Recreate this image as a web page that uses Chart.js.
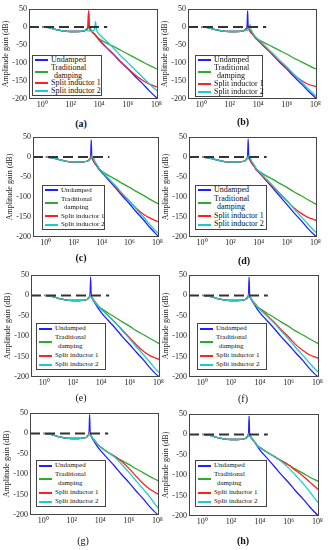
<!DOCTYPE html>
<html>
<head>
<meta charset="utf-8">
<script src="https://cdn.jsdelivr.net/npm/chart.js@4.4.1/dist/chart.umd.min.js"></script>
<style>
  body { margin: 0; background: #fff; width: 329px; height: 550px; position: relative; overflow: hidden; font-family: "Liberation Serif", "Times New Roman", serif; }
  canvas { position: absolute; }
  .legend { position: absolute; border: 1px solid #444; background: #fff; box-sizing: border-box; color: #111; }
  .legend .row { position: absolute; left: 18px; white-space: nowrap; }
  .legend .sw { position: absolute; left: 2px; width: 13px; height: 2px; }
  .cap { position: absolute; font-size: 10px; transform: translate(-50%, -50%); color: #111; }
</style>
</head>
<body>
<script>
// frequency grid (Hz), shared by every panel
const freqLow = [1, 3, 10, 30, 100, 300, 1000];
const gainLow = [0, -2, -7, -11, -12.5, -12.5, -10];
const freqHigh = [1400, 1650, 1800, 1950, 2300, 2650, 3000, 3800, 4700, 5500, 6200, 7500,
                  1e4, 3e4, 1e5, 3e5, 1e6, 3e6, 1e7, 3e7, 1e8, 1.3e8];
const refFreq = [0.12, 36000];
const refGain = [0, 0];
const xTicks = [1, 1e2, 1e4, 1e6, 1e8];
const yTicks = [50, 0, -50, -100, -150, -200];
const seriesNames = ["Undamped", "Traditional damping", "Split inductor 1", "Split inductor 2"];

// (a)
const undampedA    = [-5, 3, 45, 3, -6, -10, -13, -17, -20, -23, -26, -30, -36, -56, -76, -96, -116, -136, -156, -176, -196, -200];
const traditionalA = [-5, -3, -2, -3, -6, -8, -11, -15, -19, -22, -25, -29, -33, -44, -54, -64, -75, -85, -96, -106, -116, -118];
const split1A      = [-5, 3, 45, 3, -6, -10, -13, -17, -20, -23, -26, -30, -36, -56, -76, -96, -115, -132, -147, -158, -166, -168];
const split2A      = [-9, -10, -11, -11, -11, -12, -12, -10, -6, 15, -4, -14, -20, -38, -59, -79, -99, -118, -138, -157, -176, -180];
// (b)
const undampedB    = [-5, 3, 45, 3, -6, -10, -14, -19, -23, -27, -30, -33, -38, -57, -77, -97, -117, -137, -157, -177, -196, -200];
const traditionalB = [-5, -3, -2, -3, -6, -9, -12, -17, -21, -25, -28, -32, -35, -45, -55, -65, -75, -86, -96, -106, -116, -117];
const split1B      = [-6, -3, -2, -4, -8, -12, -15, -19, -23, -27, -30, -33, -37, -56, -75, -94, -114, -132, -148, -159, -165, -166];
const split2B      = [-8, -9, -9, -8, -4, 7, -4, -14, -20, -24, -27, -30, -34, -53, -73, -92, -111, -131, -151, -171, -190, -193];
// (c)
const undampedC    = [-5, 3, 43, 3, -6, -10, -14, -19, -23, -27, -30, -33, -38, -57, -77, -97, -117, -137, -157, -177, -196, -200];
const traditionalC = [-5, -3, -2, -3, -6, -9, -12, -16, -20, -24, -27, -31, -35, -46, -56, -66, -76, -86, -96, -106, -116, -118];
const split1C      = [-5, 0, 6, 0, -6, -10, -14, -19, -23, -27, -30, -33, -37, -55, -74, -93, -111, -128, -143, -153, -161, -163];
const split2C      = [-6, -3, -1, 0, 2, -2, -8, -15, -20, -24, -28, -31, -35, -53, -72, -91, -110, -130, -150, -170, -189, -192];
// (d)
const undampedD    = [-5, 3, 45, 3, -6, -10, -14, -19, -23, -27, -30, -33, -38, -57, -78, -98, -119, -139, -159, -179, -197, -200];
const traditionalD = [-5, -3, -2, -3, -6, -9, -12, -16, -20, -24, -27, -31, -35, -46, -56, -66, -76, -87, -97, -107, -117, -119];
const split1D      = [-5, 0, 4, 0, -6, -10, -14, -19, -23, -27, -30, -33, -37, -55, -74, -92, -110, -127, -141, -151, -158, -160];
const split2D      = [-6, -2, 0, 1, 2, -2, -8, -15, -20, -24, -28, -31, -35, -53, -72, -90, -109, -129, -149, -168, -187, -190];
// (e)
const undampedE    = [-5, 3, 45, 3, -6, -11, -15, -20, -25, -29, -32, -36, -42, -61, -81, -101, -121, -140, -160, -180, -198, -200];
const traditionalE = [-5, -3, -2, -3, -6, -9, -12, -16, -20, -23, -26, -29, -32, -43, -54, -65, -76, -87, -97, -107, -117, -119];
const split1E      = [-5, 0, 4, 0, -6, -10, -13, -18, -22, -25, -27, -30, -34, -49, -67, -85, -104, -122, -138, -149, -156, -158];
const split2E      = [-6, -2, 1, -1, -6, -10, -13, -18, -22, -25, -27, -30, -34, -50, -68, -87, -107, -127, -147, -167, -187, -190];
// (f)
const undampedF    = [-5, 3, 45, 3, -6, -11, -15, -20, -25, -29, -32, -36, -42, -61, -81, -101, -121, -140, -160, -180, -198, -200];
const traditionalF = [-5, -3, -2, -3, -6, -9, -12, -16, -20, -23, -26, -29, -32, -43, -54, -65, -76, -87, -97, -107, -117, -119];
const split1F      = [-5, 0, 4, 0, -6, -10, -13, -18, -22, -25, -27, -30, -34, -48, -66, -84, -102, -120, -135, -146, -153, -155];
const split2F      = [-6, -2, 1, -1, -6, -10, -13, -18, -22, -25, -27, -30, -34, -50, -68, -87, -107, -127, -147, -167, -186, -189];
// (g)
const undampedG    = [-5, 3, 46, 3, -6, -11, -15, -20, -25, -29, -32, -36, -41, -60, -80, -100, -120, -140, -160, -180, -198, -200];
const traditionalG = [-5, -3, -2, -3, -6, -9, -12, -16, -20, -23, -26, -29, -33, -45, -56, -66, -76, -86, -96, -106, -115, -117];
const split1G      = [-5, 0, 4, 0, -6, -10, -13, -17, -21, -24, -26, -29, -33, -45, -56, -68, -85, -104, -123, -137, -148, -150];
const split2G      = [-6, -2, 1, -1, -6, -10, -13, -17, -21, -24, -26, -29, -33, -45, -58, -75, -95, -115, -136, -156, -181, -185];
// (h)
const undampedH    = [-5, 3, 45, 3, -5, -9, -12, -16, -20, -24, -27, -31, -38, -57, -78, -98, -118, -138, -158, -178, -197, -200];
const traditionalH = [-5, -3, -2, -3, -6, -9, -12, -16, -20, -23, -26, -29, -32, -43, -54, -64, -75, -85, -95, -105, -114, -116];
const split1H      = [-5, 0, 3, 0, -6, -9, -12, -16, -20, -23, -26, -29, -32, -43, -54, -64, -75, -88, -102, -117, -133, -136];
const split2H      = [-6, -2, 1, -1, -6, -9, -12, -16, -20, -23, -26, -29, -32, -43, -54, -66, -82, -100, -120, -141, -165, -170];

const colors = ["#1f1fff", "#2eaa2e", "#ff2020", "#1ccccc"];
const fontFam = '"Liberation Serif", "Times New Roman", serif';
const sup = { 0: "\u2070", 2: "\u00b2", 4: "\u2074", 6: "\u2076", 8: "\u2078" };

// plot = [left, top, right, bottom], leg = [left, top, width, height, fontSize]
const panels = [
  { cap: "(a)", bold: true,  capAt: [81, 123],  plot: [29, 9, 158, 99],     leg: [32, 55, 70, 41, 8], s: [undampedA, traditionalA, split1A, split2A] },
  { cap: "(b)", bold: true,  capAt: [243, 121], plot: [188, 9, 317, 99],    leg: [195, 55, 68, 42, 8], s: [undampedB, traditionalB, split1B, split2B] },
  { cap: "(c)", bold: true,  capAt: [81, 257],  plot: [33, 137, 159, 237],  leg: [42, 185, 63, 45, 7], s: [undampedC, traditionalC, split1C, split2C] },
  { cap: "(d)", bold: true,  capAt: [244, 260], plot: [189, 137, 317, 237], leg: [195, 185, 72, 45, 8], s: [undampedD, traditionalD, split1D, split2D] },
  { cap: "(e)", bold: false, capAt: [81, 397],  plot: [31, 275, 160, 377],  leg: [36, 323, 70, 47, 7], s: [undampedE, traditionalE, split1E, split2E] },
  { cap: "(f)", bold: false, capAt: [243, 398], plot: [189, 275, 319, 377], leg: [197, 323, 70, 47, 7], s: [undampedF, traditionalF, split1F, split2F] },
  { cap: "(g)", bold: false, capAt: [83, 540],  plot: [30, 413, 159, 515],  leg: [36, 460, 70, 47, 7], s: [undampedG, traditionalG, split1G, split2G] },
  { cap: "(h)", bold: true,  capAt: [243, 540], plot: [189, 414, 319, 516], leg: [195, 460, 72, 47, 7], s: [undampedH, traditionalH, split1H, split2H] }
];

const boxPlugin = {
  id: "box",
  afterDatasetsDraw(chart) {
    const a = chart.chartArea, ctx = chart.ctx;
    ctx.save();
    ctx.strokeStyle = "#444";
    ctx.lineWidth = 1;
    ctx.strokeRect(Math.round(a.left) + 0.5, Math.round(a.top) + 0.5, Math.round(a.right - a.left) - 1, Math.round(a.bottom - a.top) - 1);
    ctx.restore();
  }
};

function pts(fx, gy) {
  return fx.map((f, i) => ({ x: f, y: gy[i] }));
}

function makePanel(p) {
  const padL = 29, padT = 9, padR = 7, padB = 13;
  const W = p.plot[2] - p.plot[0] + padL + padR;
  const H = p.plot[3] - p.plot[1] + padT + padB;
  const cv = document.createElement("canvas");
  cv.width = W; cv.height = H;
  cv.style.left = (p.plot[0] - padL) + "px";
  cv.style.top = (p.plot[1] - padT) + "px";
  cv.style.width = W + "px"; cv.style.height = H + "px";
  document.body.appendChild(cv);

  const freq = freqLow.concat(freqHigh);
  const line = (vals, c) => ({
    data: pts(freq, gainLow.concat(vals)),
    borderColor: c, borderWidth: 1.3, pointRadius: 0,
    cubicInterpolationMode: "monotone"
  });

  // drawing order: first dataset ends up on top
  const datasets = [
    { data: pts(refFreq, refGain), borderColor: "#333", borderWidth: 2, borderDash: [10, 5], pointRadius: 0 },
    line(p.s[3], colors[3]),
    line(p.s[2], colors[2]),
    line(p.s[1], colors[1]),
    line(p.s[0], colors[0])
  ];

  new Chart(cv, {
    type: "line",
    data: { datasets: datasets },
    options: {
      responsive: false,
      animation: false,
      devicePixelRatio: 1,
      layout: { padding: { top: padT, right: padR, left: 0, bottom: 0 } },
      plugins: { legend: { display: false }, tooltip: { enabled: false } },
      scales: {
        x: {
          type: "logarithmic", min: 0.12, max: 1.3e8,
          grid: { display: false, drawTicks: false }, border: { display: false },
          afterFit: s => { s.height = padB; },
          afterBuildTicks: s => { s.ticks = xTicks.map(v => ({ value: v })); },
          ticks: {
            autoSkip: false, maxRotation: 0, padding: 1, color: "#222",
            font: { family: fontFam, size: 8 },
            callback: v => "10" + sup[Math.round(Math.log10(v))]
          }
        },
        y: {
          min: -200, max: 50,
          grid: { display: false, drawTicks: false }, border: { display: false },
          afterFit: s => { s.width = padL; },
          afterBuildTicks: s => { s.ticks = yTicks.map(v => ({ value: v })); },
          ticks: { padding: 2, color: "#222", font: { family: fontFam, size: 8 } },
          title: { display: true, text: "Amplitude gain (dB)", color: "#222", font: { family: fontFam, size: 8 }, padding: { top: 1, bottom: 0 } }
        }
      }
    },
    plugins: [boxPlugin]
  });

  // legend box inside the plot
  const [lx, ly, lw, lh, fs] = p.leg;
  const lg = document.createElement("div");
  lg.className = "legend";
  lg.style.left = lx + "px"; lg.style.top = ly + "px";
  lg.style.width = lw + "px"; lg.style.height = lh + "px";
  lg.style.fontSize = fs + "px";
  const rowH = (lh - 2) / 5;
  const rows = ["Undamped", "Traditional", "damping", "Split inductor 1", "Split inductor 2"];
  rows.forEach((t, i) => {
    const r = document.createElement("div");
    r.className = "row";
    r.textContent = t;
    r.style.top = (i * rowH) + "px";
    r.style.lineHeight = rowH + "px";
    if (t === "damping") r.style.left = "21px";
    lg.appendChild(r);
  });
  const swRow = [0.5, 2, 3.5, 4.5];
  seriesNames.forEach((n, i) => {
    const sw = document.createElement("div");
    sw.className = "sw";
    sw.title = n;
    sw.style.background = colors[i];
    sw.style.top = (swRow[i] * rowH - 1) + "px";
    lg.appendChild(sw);
  });
  document.body.appendChild(lg);

  const cp = document.createElement("div");
  cp.className = "cap";
  cp.textContent = p.cap;
  cp.style.left = p.capAt[0] + "px";
  cp.style.top = p.capAt[1] + "px";
  cp.style.fontWeight = p.bold ? "bold" : "normal";
  document.body.appendChild(cp);
}

panels.forEach(makePanel);
</script>
</body>
</html>
